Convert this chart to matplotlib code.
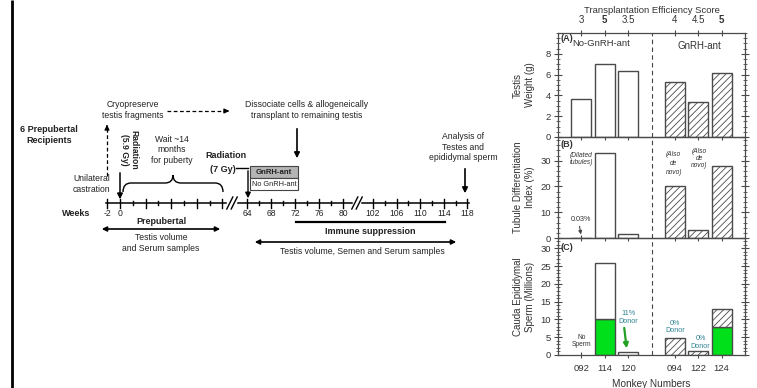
import matplotlib
matplotlib.use('Agg')
import matplotlib.pyplot as plt
from matplotlib.ticker import MultipleLocator
from matplotlib.patches import Rectangle, PathPatch
from matplotlib.path import Path

plt.rcParams['font.family'] = ['Liberation Sans', 'DejaVu Sans']
plt.rcParams['hatch.linewidth'] = 0.6

# ---------------- data ----------------
monkeys = ['092', '114', '120', '094', '122', '124']
efficiency = ['3', '5', '3.5', '4', '4.5', '5']
testis_weight = [3.7, 7.0, 6.3, 5.3, 3.4, 6.2]          # g
tubule_index = [0.03, 33.0, 1.7, 20.2, 3.1, 28.0]       # %
sperm_total = [0.0, 26.0, 0.8, 4.8, 1.1, 12.8]          # millions
sperm_donor = [0.0, 10.0, 0.09, 0.0, 0.0, 7.8]          # millions of donor origin
gnrh_treated = [False, False, False, True, True, True]

# timeline (weeks)
weeks_pre = [-2, 0, 2, 4, 6, 8, 10, 12, 14, 16]
weeks_mid = [64, 66, 68, 70, 72, 74, 76, 78, 80]
weeks_late = [102, 104, 106, 108, 110, 112, 114, 116, 118]
labels_pre = {-2: '-2', 0: '0'}
labels_mid = {64: '64', 68: '68', 72: '72', 76: '76', 80: '80'}
labels_late = {102: '102', 106: '106', 110: '110', 114: '114', 118: '118'}

fig = plt.figure(figsize=(7.57, 3.88), dpi=100)

# ---------------- study design timeline ----------------
ax0 = fig.add_axes([0, 0, 1, 1])
ax0.set_xlim(0, 757)
ax0.set_ylim(388, 0)
ax0.axis('off')

TXT = '#222222'
fs = 6.2
ax0.plot([12, 12], [0, 388], color='black', lw=2.0, solid_capstyle='butt')

y_axis = 203


def wx_pre(w):
    return 120 + 6.4 * w


def wx_mid(w):
    return 247 + 6.0 * (w - 64)


def wx_late(w):
    return 373 + 5.9 * (w - 102)


segments = [(weeks_pre, labels_pre, wx_pre, 106, 226),
            (weeks_mid, labels_mid, wx_mid, 238, 352),
            (weeks_late, labels_late, wx_late, 362, 469)]
for weeks, labs, fx, x0, x1 in segments:
    ax0.plot([x0, x1], [y_axis, y_axis], color='black', lw=1.1)
    for i, w in enumerate(weeks):
        x = fx(w)
        tall = (w in labs) or (fx is wx_pre and i % 2 == 1)
        h = 4.5 if tall else 2.0
        ax0.plot([x, x], [y_axis - h, y_axis + h], color='black', lw=1.0)
        if w in labs:
            ax0.text(x, y_axis + 10, labs[w], ha='center', va='center',
                     fontsize=fs, color=TXT)

# axis breaks
for xb in (232, 357):
    for dx in (-2.2, 2.2):
        ax0.plot([xb + dx - 3, xb + dx + 3], [y_axis + 6, y_axis - 6],
                 color='black', lw=1.0)

ax0.text(90, y_axis + 10, 'Weeks', ha='right', va='center', fontsize=6.5,
         fontweight='bold', color=TXT)
ax0.text(49, 135, '6 Prepubertal\nRecipients', ha='center', va='center',
         fontsize=6.5, fontweight='bold', color=TXT, linespacing=1.15)

# unilateral castration / cryopreservation
ax0.plot([107, 107], [176, 128], color='black', lw=0.9, ls=(0, (3, 2)))
ax0.annotate('', xy=(107, 122), xytext=(107, 129),
             arrowprops=dict(arrowstyle='-|>', color='black', lw=0.9,
                             mutation_scale=7))
ax0.text(110, 184, 'Unilateral\ncastration', ha='right', va='center',
         fontsize=fs, color=TXT, linespacing=1.2)
ax0.text(133, 110, 'Cryopreserve\ntestis fragments', ha='center', va='center',
         fontsize=fs, color=TXT, linespacing=1.2)
ax0.plot([167, 226], [111, 111], color='black', lw=0.9, ls=(0, (3, 2)))
ax0.annotate('', xy=(232, 111), xytext=(224, 111),
             arrowprops=dict(arrowstyle='-|>', color='black', lw=0.9,
                             mutation_scale=7))
ax0.text(307, 110, 'Dissociate cells & allogeneically\ntransplant to remaining testis',
         ha='center', va='center', fontsize=fs, color=TXT, linespacing=1.2)
ax0.annotate('', xy=(297, 161), xytext=(297, 126),
             arrowprops=dict(arrowstyle='-|>', color='black', lw=1.2,
                             mutation_scale=8))

# first irradiation
ax0.text(129, 150, 'Radiation\n(5.9 Gy)', ha='center', va='center',
         rotation=270, fontsize=6.2, fontweight='bold', color=TXT,
         linespacing=1.1)
ax0.annotate('', xy=(120, y_axis - 1), xytext=(120, 170),
             arrowprops=dict(arrowstyle='-|>', color='black', lw=1.1,
                             mutation_scale=8))

# waiting period brace
bx0, bx1, btop, bbot = 123, 223, 175, 192
bm = (bx0 + bx1) / 2
verts = [(bx0, bbot), (bx0, 183), (bx0 + 8, 183),
         (bm - 8, 183), (bm, 183), (bm, btop),
         (bm, 183), (bm + 8, 183),
         (bx1 - 8, 183), (bx1, 183), (bx1, bbot)]
codes = [Path.MOVETO, Path.CURVE3, Path.CURVE3,
         Path.LINETO, Path.CURVE3, Path.CURVE3,
         Path.CURVE3, Path.CURVE3,
         Path.LINETO, Path.CURVE3, Path.CURVE3]
ax0.add_patch(PathPatch(Path(verts, codes), fill=False, lw=1.0,
                        edgecolor='black'))
ax0.text(172, 150, 'Wait ~14\nmonths\nfor puberty', ha='center', va='center',
         fontsize=fs, color=TXT, linespacing=1.15)

# second irradiation and GnRH-ant box
ax0.text(226, 156, 'Radiation', ha='center', va='center', fontsize=6.5,
         fontweight='bold', color=TXT)
ax0.text(236, 169, '(7 Gy)', ha='right', va='center', fontsize=6.5,
         fontweight='bold', color=TXT)
ax0.plot([236, 248], [168, 168], color='black', lw=1.0)
ax0.annotate('', xy=(248, y_axis - 2), xytext=(248, 168),
             arrowprops=dict(arrowstyle='-|>', color='black', lw=1.0,
                             mutation_scale=8))
ax0.add_patch(Rectangle((250, 166), 48, 12, facecolor='#b4b4b4',
                        edgecolor='#444444', lw=0.8))
ax0.add_patch(Rectangle((250, 178), 48, 12, facecolor='white',
                        edgecolor='#444444', lw=0.8))
ax0.text(274, 172, 'GnRH-ant', ha='center', va='center', fontsize=5.6,
         fontweight='bold', color=TXT)
ax0.text(274, 184, 'No GnRH-ant', ha='center', va='center', fontsize=5.3,
         color=TXT)

# final analysis
ax0.text(463, 147, 'Analysis of\nTestes and\nepididymal sperm', ha='center',
         va='center', fontsize=fs, color=TXT, linespacing=1.15)
ax0.annotate('', xy=(465, 196), xytext=(465, 166),
             arrowprops=dict(arrowstyle='-|>', color='black', lw=1.2,
                             mutation_scale=8))

# sampling periods
ax0.text(161, 222, 'Prepubertal', ha='center', va='center', fontsize=6.5,
         fontweight='bold', color=TXT)
ax0.annotate('', xy=(99, 229), xytext=(223, 229),
             arrowprops=dict(arrowstyle='<|-|>', color='black', lw=1.2,
                             mutation_scale=7))
ax0.text(161, 243, 'Testis volume\nand Serum samples', ha='center',
         va='center', fontsize=fs, color=TXT, linespacing=1.2)
ax0.plot([296, 445], [222, 222], color='black', lw=1.6)
ax0.text(370, 232, 'Immune suppression', ha='center', va='center',
         fontsize=6.5, fontweight='bold', color=TXT)
ax0.annotate('', xy=(252, 242), xytext=(459, 242),
             arrowprops=dict(arrowstyle='<|-|>', color='black', lw=1.2,
                             mutation_scale=7))
ax0.text(362, 252, 'Testis volume, Semen and Serum samples', ha='center',
         va='center', fontsize=fs, color=TXT)

# ---------------- outcome panels ----------------
positions = [1, 2, 3, 5, 6, 7]
W = 757.0
H = 388.0
left = 558 / W
width = (745 - 558) / W
ax_a = fig.add_axes([left, (H - 137) / H, width, 104 / H])
ax_b = fig.add_axes([left, (H - 238) / H, width, 101 / H])
ax_c = fig.add_axes([left, (H - 355) / H, width, 117 / H])

EDGE = '#4a4a4a'
LBL = '#333333'
HATCH = '/////'
GREEN = '#00e01a'
TEAL = '#2e8292'
bw = 0.86

for ax, ymax, major, minor in ((ax_a, 10, 2, 0.5), (ax_b, 39.2, 10, 2),
                               (ax_c, 32.9, 5, 1)):
    ax.set_xlim(0, 8)
    ax.set_ylim(0, ymax)
    ax.yaxis.set_major_locator(MultipleLocator(major))
    ax.yaxis.set_minor_locator(MultipleLocator(minor))
    ax.set_xticks(positions)
    ax.tick_params(axis='y', which='major', direction='inout', length=6,
                   width=0.8, color=EDGE, labelsize=6.8, labelcolor=LBL,
                   right=True, pad=2)
    ax.tick_params(axis='y', which='minor', direction='inout', length=2.5,
                   width=0.6, color=EDGE, right=True)
    ax.tick_params(axis='x', which='major', direction='inout', length=5,
                   width=0.8, color=EDGE, labelsize=6.8, labelcolor=LBL,
                   pad=4)
    for sp in ax.spines.values():
        sp.set_color(EDGE)
        sp.set_linewidth(0.9)
    ax.axvline(4, color='#444444', lw=0.8, ls=(0, (4, 3)), zorder=1)
    ax.patch.set_alpha(0)
    ax.yaxis.set_label_coords(-0.125, 0.5)


def style_for(treated):
    if treated:
        return dict(facecolor='white', edgecolor=EDGE, hatch=HATCH)
    return dict(facecolor='white', edgecolor=EDGE)


# (A) testis weight
for x, v, t in zip(positions, testis_weight, gnrh_treated):
    ax_a.bar(x, v, width=bw, lw=1.0, zorder=2, **style_for(t))
ax_a.set_yticks([0, 2, 4, 6, 8])
ax_a.set_xticklabels(efficiency)
ax_a.tick_params(axis='x', top=True, labeltop=True, labelbottom=False, pad=3.5,
                 labelsize=7)
for tick, lab in zip(ax_a.xaxis.get_major_ticks(), efficiency):
    if lab == '5':
        tick.label2.set_fontweight('bold')
ax_a.set_xlabel('Transplantation Efficiency Score', fontsize=6.8, color=LBL,
                labelpad=1.0)
ax_a.xaxis.set_label_position('top')
ax_a.set_ylabel('Testis\nWeight (g)', fontsize=7, color=LBL, linespacing=1.2)
ax_a.text(0.1, 9.45, '(A)', fontsize=6.5, fontweight='bold', color=LBL,
          va='center', ha='left')
ax_a.text(0.62, 8.95, 'No-GnRH-ant', fontsize=6.8, color=LBL, va='center',
          ha='left')
ax_a.text(6.05, 8.75, 'GnRH-ant', fontsize=7, color=LBL, va='center',
          ha='center')

# (B) tubule differentiation index
for x, v, t in zip(positions, tubule_index, gnrh_treated):
    ax_b.bar(x, v, width=bw, lw=1.0, zorder=2, **style_for(t))
ax_b.set_yticks([0, 10, 20, 30])
ax_b.tick_params(axis='x', labelbottom=False)
ax_b.set_ylabel('Tubule Differentiation\nIndex (%)', fontsize=7, color=LBL,
                linespacing=1.2)
ax_b.text(0.1, 36.3, '(B)', fontsize=6.5, fontweight='bold', color=LBL,
          va='center', ha='left')
ax_b.text(1.0, 30.6, '(Dilated\ntubules)', fontsize=4.8, style='italic',
          color=LBL, ha='center', va='center', linespacing=1.1)
ax_b.text(0.98, 7.3, '%.2f%%' % tubule_index[0], fontsize=5.2, color=LBL,
          ha='center', va='center')
ax_b.annotate('', xy=(1.0, 0.3), xytext=(0.9, 5.6),
              arrowprops=dict(arrowstyle='-|>', color='#444444', lw=0.8,
                              mutation_scale=5))
ax_b.text(4.95, 29.0, '(Also\nde\nnovo)', fontsize=4.8, style='italic',
          color=LBL, ha='center', va='center', linespacing=1.35)
ax_b.text(6.05, 30.8, '(Also\nde\nnovo)', fontsize=4.8, style='italic',
          color=LBL, ha='center', va='center', linespacing=1.0)

# (C) cauda epididymal sperm
for x, tot, don, t in zip(positions, sperm_total, sperm_donor, gnrh_treated):
    if tot <= 0:
        continue
    ax_c.bar(x, don, width=bw, facecolor=GREEN, edgecolor=EDGE, lw=1.0,
             zorder=2)
    ax_c.bar(x, tot - don, bottom=don, width=bw, lw=1.0, zorder=2,
             **style_for(t))
ax_c.set_yticks([0, 5, 10, 15, 20, 25, 30])
ax_c.set_xticklabels(monkeys)
ax_c.set_xlabel('Monkey Numbers', fontsize=7.2, color=LBL, labelpad=4)
ax_c.set_ylabel('Cauda Epididymal\nSperm (Millions)', fontsize=7, color=LBL,
                linespacing=1.2)
ax_c.text(0.1, 30.3, '(C)', fontsize=6.5, fontweight='bold', color=LBL,
          va='center', ha='left')
ax_c.text(1.0, 3.9, 'No\nSperm', fontsize=4.8, color=LBL, ha='center',
          va='center', linespacing=1.1)
donor_pct = [round(100 * d / t) if t > 0 else 0
             for d, t in zip(sperm_donor, sperm_total)]
ax_c.text(3.0, 10.6, '%d%%\nDonor' % donor_pct[2], fontsize=5.2, color=TEAL,
          ha='center', va='center', linespacing=1.15)
ax_c.annotate('', xy=(2.95, 1.1), xytext=(2.82, 8.4),
              arrowprops=dict(arrowstyle='-|>', color='#22a022', lw=1.6,
                              mutation_scale=7))
ax_c.text(5.0, 7.9, '%d%%\nDonor' % donor_pct[3], fontsize=5.2, color=TEAL,
          ha='center', va='center', linespacing=1.15)
ax_c.text(6.1, 3.5, '%d%%\nDonor' % donor_pct[4], fontsize=5.2, color=TEAL,
          ha='center', va='center', linespacing=1.15)

fig.savefig('out.png', dpi=100)
